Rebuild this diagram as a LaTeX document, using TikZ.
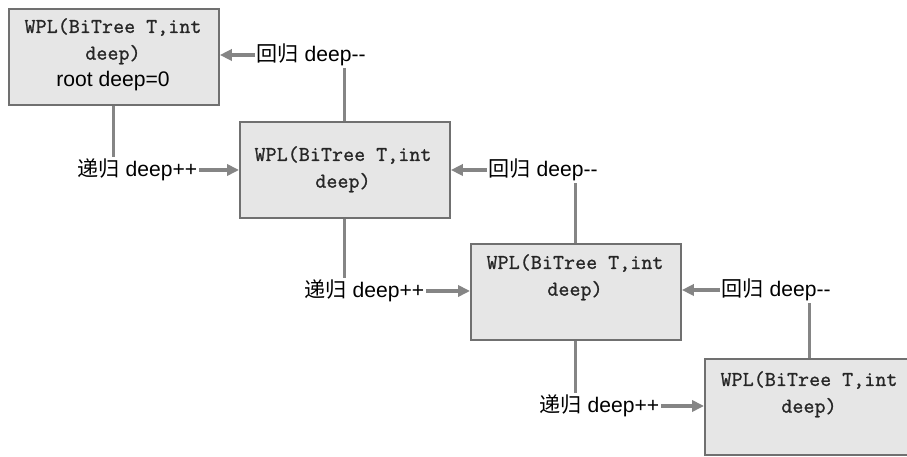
\documentclass[tikz,border=0pt]{standalone}
\usepackage{fontspec}
\setmainfont{Liberation Sans}
\setmonofont{Latin Modern Mono}[LetterSpace=1,FakeBold=1.2]
\newfontfamily\cjk{Noto Sans CJK SC}
\usetikzlibrary{arrows.meta,positioning}

\definecolor{boxfill}{HTML}{E6E6E6}
\definecolor{boxline}{HTML}{707070}
\definecolor{linkgray}{HTML}{858585}

\tikzset{
  callbox/.style={draw=boxline,fill=boxfill,line width=1.3pt,minimum width=5.25cm,minimum height=2.4cm,anchor=north west,inner sep=0pt},
  calltext/.style={font=\fontsize{15}{19}\selectfont\ttfamily,text=black!85,align=center,inner sep=0pt,anchor=north},
  steplabel/.style={font=\fontsize{15}{17}\selectfont,inner sep=1pt,anchor=west},
  link/.style={draw=linkgray,line width=2.2pt},
  linkarrow/.style={link,-{Triangle[length=3mm,width=2.8mm]}}
}

\begin{document}
\begin{tikzpicture}[x=0.025cm,y=-0.025cm]
\useasboundingbox (0,0) rectangle (907,457);
\clip (0,0) rectangle (907,457);
% the four calls of WPL, one level deeper each time
\node[callbox] (b1) at (8,8) {};
\node[callbox] (b2) at (239,121) {};
\node[callbox] (b3) at (470,243) {};
\node[callbox] (b4) at (704,358) {};
\node[calltext] (t1) at (113,18) {WPL(BiTree T,int\\deep)\\{\rmfamily\fontsize{15}{17}\selectfont\color{black} root deep=0}};
\node[calltext] (t2) at (343,146) {WPL(BiTree T,int\\deep)};
\node[calltext] (t3) at (575,254) {WPL(BiTree T,int\\deep)};
\node[calltext] (t4) at (809,371) {WPL(BiTree T,int\\deep)};
% going down: deep++
\node[steplabel] (d1) at (76,170) {{\cjk 递归} deep++};
\node[steplabel] (d2) at (303,291) {{\cjk 递归} deep++};
\node[steplabel] (d3) at (538,406) {{\cjk 递归} deep++};
% coming back: deep--
\node[steplabel] (u1) at (255,55) {{\cjk 回归} deep-{}-};
\node[steplabel] (u2) at (487,170) {{\cjk 回归} deep-{}-};
\node[steplabel] (u3) at (720,290) {{\cjk 回归} deep-{}-};
\coordinate (c1) at (b1.south |- d1.north);
\coordinate (c2) at (b2.south |- d2.north);
\coordinate (c3) at (b3.south |- d3.north);
\coordinate (e2) at (b2.north |- u1.south);
\coordinate (e3) at (b3.north |- u2.south);
\coordinate (e4) at (b4.north |- u3.south);
\draw[link] (b1.south) -- (c1);
\draw[link] (b2.south) -- (c2);
\draw[link] (b3.south) -- (c3);
\draw[linkarrow] (d1.east) -- (d1.east -| b2.west);
\draw[linkarrow] (d2.east) -- (d2.east -| b3.west);
\draw[linkarrow] (d3.east) -- (d3.east -| b4.west);
\draw[link] (b2.north) -- (e2);
\draw[link] (b3.north) -- (e3);
\draw[link] (b4.north) -- (e4);
\draw[linkarrow] (u1.west) -- (u1.west -| b1.east);
\draw[linkarrow] (u2.west) -- (u2.west -| b2.east);
\draw[linkarrow] (u3.west) -- (u3.west -| b3.east);
\end{tikzpicture}
\end{document}
